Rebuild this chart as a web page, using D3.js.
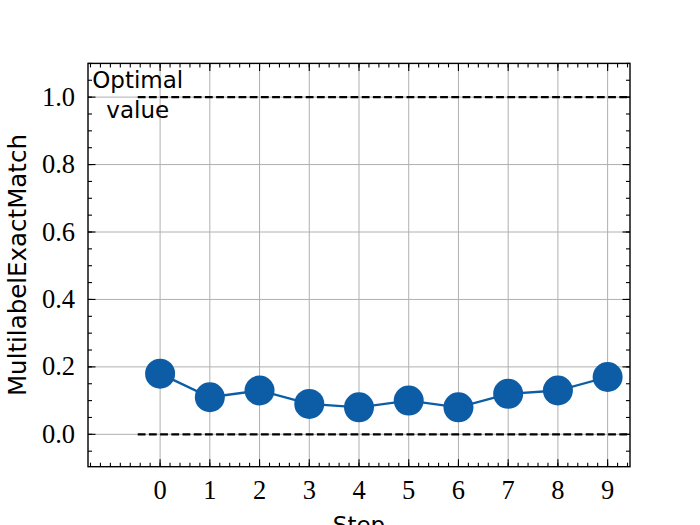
<!DOCTYPE html>
<html><head><meta charset="utf-8">
<script src="https://cdn.jsdelivr.net/npm/d3@7"></script>
<style>body{margin:0;background:#fff}svg{display:block}</style>
</head><body>
<script>
const steps = [0,1,2,3,4,5,6,7,8,9];
const values = [0.18,0.11,0.13,0.09,0.08,0.10,0.08,0.12,0.13,0.17];
const refLines = [1.0, 0.0];
const xTicks = [0,1,2,3,4,5,6,7,8,9];
const yTicks = [0.0,0.2,0.4,0.6,0.8,1.0];
const xLabel = "Step", yLabel = "MultilabelExactMatch";
const refText = ["Optimal","value"];

const W=700,H=525, L=88,R=630,T=63.4,B=466.7;
const svg=d3.select("body").append("svg").attr("width",W).attr("height",H);
const x=d3.scaleLinear().domain([-1.45,9.45]).range([L,R]);
const y=d3.scaleLinear().domain([-0.096,1.1]).range([B,T]);
const serif="'Liberation Serif','DejaVu Serif',serif", sans="'DejaVu Sans',sans-serif";

// grid
svg.append("g").selectAll("line").data(xTicks).join("line")
 .attr("x1",d=>x(d)).attr("x2",d=>x(d)).attr("y1",T).attr("y2",B)
 .attr("stroke","#b0b0b0").attr("stroke-width",1);
svg.append("g").selectAll("line").data(yTicks).join("line")
 .attr("y1",d=>y(d)).attr("y2",d=>y(d)).attr("x1",L).attr("x2",R)
 .attr("stroke","#b0b0b0").attr("stroke-width",1);

// reference lines
svg.append("g").selectAll("line").data(refLines).join("line")
 .attr("x1",x(-0.45)).attr("x2",R).attr("y1",d=>y(d)).attr("y2",d=>y(d))
 .attr("stroke","#000").attr("stroke-width",2.1).attr("stroke-dasharray","7.8,3.4");

// text
const tt=svg.append("text").attr("font-family",sans).attr("font-size",23).attr("text-anchor","middle");
tt.append("tspan").attr("x",x(-0.45)).attr("y",y(1.0)-9).text(refText[0]);
tt.append("tspan").attr("x",x(-0.45)).attr("y",y(1.0)+21).text(refText[1]);

// data
const line=d3.line().x((d,i)=>x(steps[i])).y(d=>y(d));
svg.append("path").datum(values).attr("d",line).attr("fill","none")
 .attr("stroke","#0C5DA5").attr("stroke-width",2.3);
svg.append("g").selectAll("circle").data(values).join("circle")
 .attr("cx",(d,i)=>x(steps[i])).attr("cy",d=>y(d)).attr("r",15).attr("fill","#0C5DA5");

// axes with inward ticks
const xMinor=d3.range(-1.4,9.45,0.2).map(v=>+v.toFixed(2));
const yMinor=d3.range(-0.05,1.1001,0.05).map(v=>+v.toFixed(3));
function ticks(g,vals,len,orient){
  g.selectAll(null).data(vals).join("line").each(function(d){
    const s=d3.select(this).attr("stroke","#000").attr("stroke-width",1.1);
    if(orient==="b") s.attr("x1",x(d)).attr("x2",x(d)).attr("y1",B).attr("y2",B-len);
    if(orient==="t") s.attr("x1",x(d)).attr("x2",x(d)).attr("y1",T).attr("y2",T+len);
    if(orient==="l") s.attr("y1",y(d)).attr("y2",y(d)).attr("x1",L).attr("x2",L+len);
    if(orient==="r") s.attr("y1",y(d)).attr("y2",y(d)).attr("x1",R).attr("x2",R-len);
  });
}
const tg=svg.append("g");
ticks(tg,xMinor,4,"b");ticks(tg,xMinor,4,"t");
ticks(tg,xTicks,7.5,"b");ticks(tg,xTicks,7.5,"t");
ticks(tg,yMinor,4,"l");ticks(tg,yMinor,4,"r");
ticks(tg,yTicks,7.5,"l");ticks(tg,yTicks,7.5,"r");
svg.append("rect").attr("x",L).attr("y",T).attr("width",R-L).attr("height",B-T)
 .attr("fill","none").attr("stroke","#000").attr("stroke-width",1.4);

// tick labels
svg.append("g").selectAll("text").data(xTicks).join("text")
 .attr("x",d=>x(d)).attr("y",B+32).attr("text-anchor","middle")
 .attr("font-family",serif).attr("font-size",26.5).text(d=>d);
svg.append("g").selectAll("text").data(yTicks).join("text")
 .attr("x",L-13).attr("y",d=>y(d)+8.5).attr("text-anchor","end")
 .attr("font-family",serif).attr("font-size",26.5).text(d=>d.toFixed(1));

// axis labels
svg.append("text").attr("x",(L+R)/2).attr("y",H+8).attr("text-anchor","middle")
 .attr("font-family",sans).attr("font-size",23).text(xLabel);
svg.append("text").attr("transform",`translate(26,${(T+B)/2}) rotate(-90)`)
 .attr("text-anchor","middle").attr("font-family",sans).attr("font-size",24.5).text(yLabel);
</script>
</body></html>
